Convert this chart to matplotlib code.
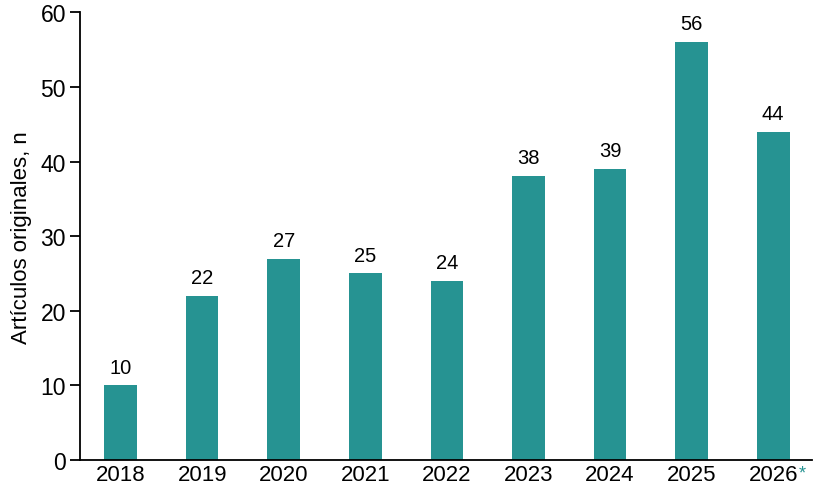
import matplotlib
matplotlib.use("Agg")
import matplotlib.pyplot as plt

years = ["2018", "2019", "2020", "2021", "2022", "2023", "2024", "2025", "2026"]
counts = [10, 22, 27, 25, 24, 38, 39, 56, 44]
yticks = [0, 10, 20, 30, 40, 50, 60]

plt.rcParams['font.family'] = ['Liberation Sans', 'DejaVu Sans']
teal = '#269392'

fig = plt.figure(figsize=(8.14, 4.89), dpi=100)
ax = fig.add_axes([0.098, 0.057, 0.9, 0.916])
x = list(range(len(years)))
ax.bar(x, counts, width=0.4, color=teal)
for xi, v in zip(x, counts):
    ax.text(xi, v + 1.2, str(v), ha='center', va='bottom', fontsize=14.5)
ax.set_xlim(-0.5, 8.48)
ax.set_ylim(0, 60)
ax.set_yticks(yticks)
ax.set_yticklabels([str(t) for t in yticks], fontsize=16.5)
ax.set_xticks(x)
ax.set_xticklabels(years, fontsize=16)
ax.tick_params(axis='x', length=0, pad=2.5)
ax.tick_params(axis='y', length=7, width=1.3, pad=3)
ax.annotate('*', xy=(8, 0), xycoords=('data', 'axes fraction'),
            xytext=(18, -3), textcoords='offset points', color=teal,
            fontsize=13, ha='left', va='top')
for s in ['top', 'right']:
    ax.spines[s].set_visible(False)
for s in ['left', 'bottom']:
    ax.spines[s].set_linewidth(1.3)
ax.set_ylabel('Artículos originales, n', fontsize=16, labelpad=6)
fig.savefig('out.png', dpi=100)
